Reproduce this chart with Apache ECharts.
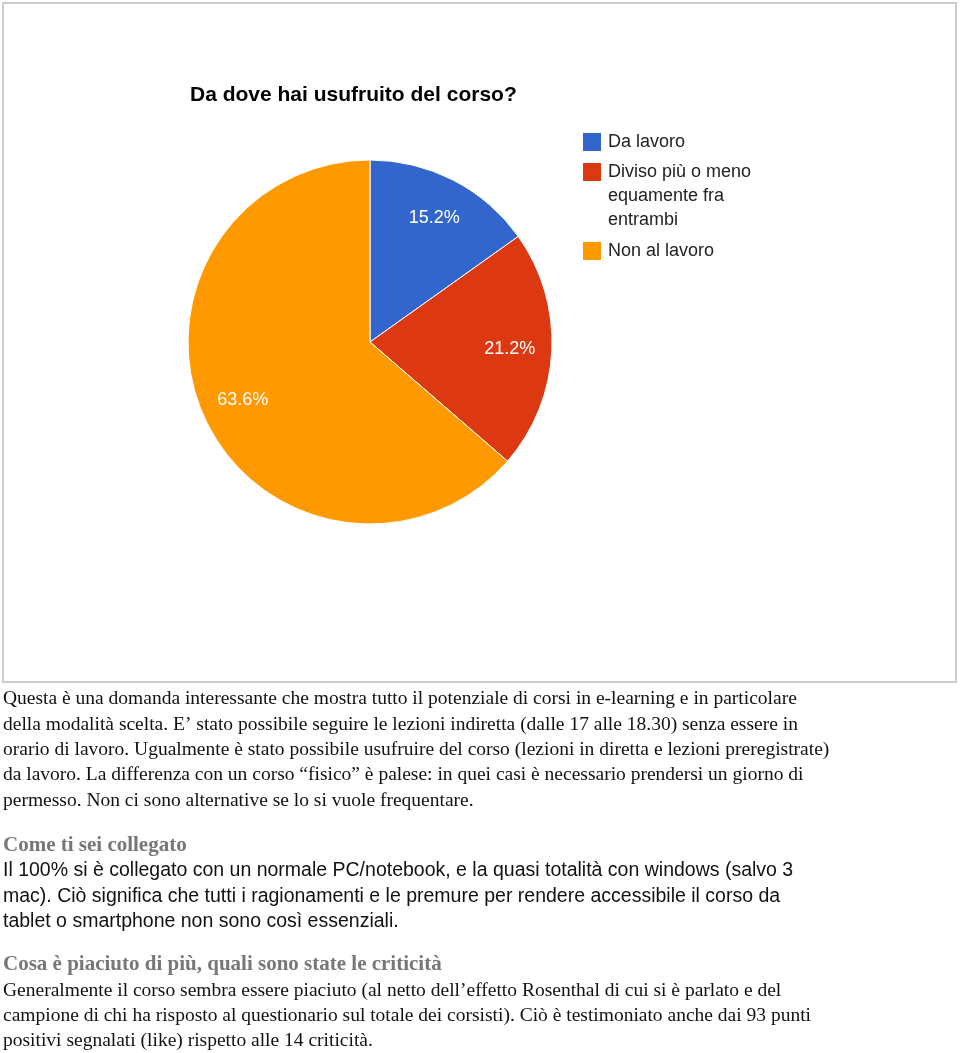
<!DOCTYPE html>
<html>
<head>
<meta charset="utf-8">
<script src="https://cdn.jsdelivr.net/npm/echarts@6/dist/echarts.min.js"></script>
<style>
html,body{margin:0;padding:0;background:#fff;}
#chart{width:960px;height:1053px;}
</style>
</head>
<body>
<div id="chart"></div>
<script>
// ---- data ----
const chartTitle = 'Da dove hai usufruito del corso?';
const categories = ['Da lavoro', 'Diviso più o meno equamente fra entrambi', 'Non al lavoro'];
const legendLabels = ['Da lavoro', 'Diviso più o meno\nequamente fra\nentrambi', 'Non al lavoro'];
const counts = [5, 7, 21];
const sliceColors = ['#3366cc', '#dc3912', '#ff9900'];

const para1 = [
  'Questa è una domanda interessante che mostra tutto il potenziale di corsi in e-learning e in particolare',
  'della modalità scelta. E’ stato possibile seguire le lezioni indiretta (dalle 17 alle 18.30) senza essere in',
  'orario di lavoro. Ugualmente è stato possibile usufruire del corso (lezioni in diretta e lezioni preregistrate)',
  'da lavoro. La differenza con un corso “fisico” è palese: in quei casi è necessario prendersi un giorno di',
  'permesso. Non ci sono alternative se lo si vuole frequentare.'
];
const heading2 = 'Come ti sei collegato';
const para2 = [
  'Il 100% si è collegato con un normale PC/notebook, e la quasi totalità con windows (salvo 3',
  'mac). Ciò significa che tutti i ragionamenti e le premure per rendere accessibile il corso da',
  'tablet o smartphone non sono così essenziali.'
];
const heading3 = 'Cosa è piaciuto di più, quali sono state le criticità';
const para3 = [
  'Generalmente il corso sembra essere piaciuto (al netto dell’effetto Rosenthal di cui si è parlato e del',
  'campione di chi ha risposto al questionario sul totale dei corsisti). Ciò è testimoniato anche dai 93 punti',
  'positivi segnalati (like) rispetto alle 14 criticità.'
];

// ---- layout ----
const pieCenter = [370, 342];
const pieR = 182;
const serif = '"Liberation Serif", "Times New Roman", serif';
const sans = '"Liberation Sans", Arial, sans-serif';

function textLines(lines, y0, step, font, fill) {
  return lines.map((t, i) => ({
    type: 'text', x: 3, y: y0 + i * step,
    style: { text: t, font: font, fill: fill, verticalAlign: 'middle', align: 'left' },
    silent: true
  }));
}

const graphics = [
  { type: 'rect', shape: { x: 3, y: 3, width: 953, height: 679 },
    style: { fill: 'none', stroke: '#cccccc', lineWidth: 2 }, silent: true, z: -1 }
]
.concat(textLines(para1, 699, 25.4, '19.5px ' + serif, '#111'))
.concat(textLines([heading2], 846, 0, 'bold 21px ' + serif, '#777777'))
.concat(textLines(para2, 871, 25.5, '19.5px ' + sans, '#111'))
.concat(textLines([heading3], 965, 0, 'bold 21px ' + serif, '#777777'))
.concat(textLines(para3, 991, 25, '19.5px ' + serif, '#111'));

const data = categories.map((c, i) => ({ name: c, value: counts[i] }));
const labelMap = {};
categories.forEach((c, i) => { labelMap[c] = legendLabels[i]; });

const legendBase = {
  orient: 'vertical', left: 583, padding: 0, itemWidth: 18, itemHeight: 18,
  icon: 'rect', selectedMode: false, itemStyle: { borderWidth: 0 },
  formatter: n => labelMap[n]
};
const legendText = { fontFamily: sans, fontSize: 18, color: '#222', lineHeight: 18, padding: [0, 0, 0, 2] };

const option = {
  animation: false,
  color: sliceColors,
  title: {
    text: chartTitle, left: 185, top: 80,
    textStyle: { fontFamily: sans, fontSize: 21, fontWeight: 'bold', color: '#000' }
  },
  legend: [
    Object.assign({}, legendBase, { data: [categories[0]], top: 133, textStyle: legendText }),
    Object.assign({}, legendBase, { data: [categories[1]], top: 160,
      itemHeight: 72,
      icon: 'path://M0,0h18M0,3h18v18h-18zM0,72h18',
      textStyle: Object.assign({}, legendText, { lineHeight: 24 }) }),
    Object.assign({}, legendBase, { data: [categories[2]], top: 242, textStyle: legendText })
  ],
  series: [
    {
      type: 'pie', center: pieCenter, radius: pieR, startAngle: 90, clockwise: true,
      data: data, label: { show: false }, labelLine: { show: false },
      itemStyle: { borderColor: '#fff', borderWidth: 1 },
      emphasis: { disabled: true }, silent: true
    },
    {
      type: 'pie', center: pieCenter, radius: [92, pieR], startAngle: 90, clockwise: true,
      data: data, percentPrecision: 1,
      itemStyle: { color: 'rgba(0,0,0,0)' },
      label: { show: true, position: 'inside', formatter: '{d}%', color: '#fff',
        fontFamily: sans, fontSize: 18 },
      labelLine: { show: false }, emphasis: { disabled: true }, silent: true
    }
  ],
  graphic: graphics
};

const chart = echarts.init(document.getElementById('chart'), null, { renderer: 'canvas' });
chart.setOption(option);
</script>
</body>
</html>
